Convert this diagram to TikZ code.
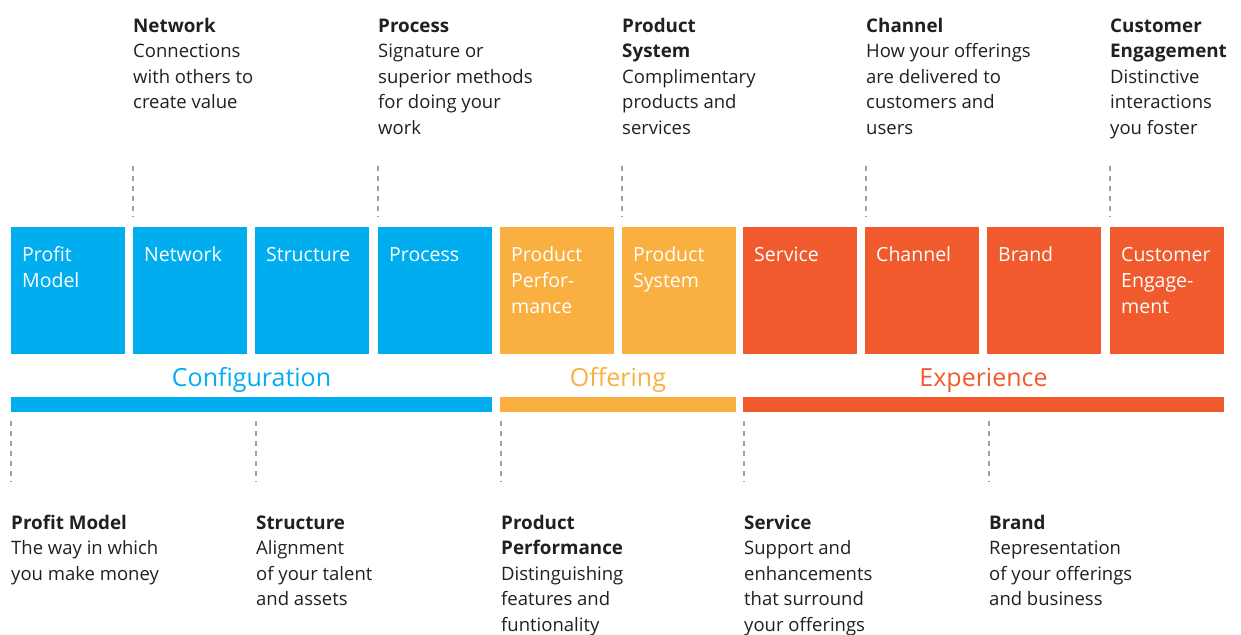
\documentclass[tikz,border=0pt]{standalone}
\usepackage{fontspec}
\setmainfont{Open Sans}
\definecolor{cblue}{HTML}{00AEEF}
\definecolor{corange}{HTML}{FAB041}
\definecolor{cred}{HTML}{F05A2C}
\definecolor{txt}{HTML}{231F20}
\definecolor{dotgray}{HTML}{A0A0A0}
\newcommand{\hd}[1]{{\fontsize{18.8}{25.5}\selectfont\bfseries #1}}
\begin{document}
\begin{tikzpicture}[x=1pt,y=-1pt,
  box/.style={draw=none, inner sep=0pt, minimum width=114pt, minimum height=127pt, anchor=north west},
  boxtxt/.style={anchor=base west, inner sep=0pt, align=left, text=white, font=\fontsize{19.5}{26}\selectfont},
  bar/.style={draw=none, inner sep=0pt, minimum height=15pt, anchor=north west},
  grp/.style={anchor=base, inner sep=0pt, font=\fontsize{25}{30}\selectfont},
  lbl/.style={anchor=base west, inner sep=0pt, align=left, text=txt, font=\fontsize{18.5}{25.5}\selectfont},
  dots/.style={draw=dotgray, line width=2pt, dash pattern=on 5pt off 5pt}]
\useasboundingbox (0,0) rectangle (1241,634);

% boxes
\node[box, fill=cblue]   (b1)  at (11,227)  {};
\node[box, fill=cblue]   (b2)  at (133,227) {};
\node[box, fill=cblue]   (b3)  at (255,227) {};
\node[box, fill=cblue]   (b4)  at (378,227) {};
\node[box, fill=corange] (b5)  at (500,227) {};
\node[box, fill=corange] (b6)  at (622,227) {};
\node[box, fill=cred]    (b7)  at (743,227) {};
\node[box, fill=cred]    (b8)  at (865,227) {};
\node[box, fill=cred]    (b9)  at (987,227) {};
\node[box, fill=cred]    (b10) at (1110,227) {};

% box texts (anchor = baseline of last line)
\node[boxtxt] (t1)  at (22,287)   {Profit\\Model};
\node[boxtxt] (t2)  at (144,261)  {Network};
\node[boxtxt] (t3)  at (266,261)  {Structure};
\node[boxtxt] (t4)  at (389,261)  {Process};
\node[boxtxt] (t5)  at (511,313)  {Product\\Perfor-\\mance};
\node[boxtxt] (t6)  at (633,287)  {Product\\System};
\node[boxtxt] (t7)  at (754,261)  {Service};
\node[boxtxt] (t8)  at (876,261)  {Channel};
\node[boxtxt] (t9)  at (998,261)  {Brand};
\node[boxtxt] (t10) at (1121,313) {Customer\\Engage-\\ment};

% group labels and bars
\node[grp, text=cblue]   (gconf) at (251.5,386) {Configuration};
\node[grp, text=corange] (goff)  at (618,386)   {Offering};
\node[grp, text=cred]    (gexp)  at (983.5,386) {Experience};
\node[bar, fill=cblue,   minimum width=481pt] (barconf) at (11,397)  {};
\node[bar, fill=corange, minimum width=236pt] (baroff)  at (500,397) {};
\node[bar, fill=cred,    minimum width=481pt] (barexp)  at (743,397) {};

% top descriptions (anchor = baseline of last line)
\node[lbl] (d2)  at (133,108.5) {\hd{Network}\\Connections\\with others to\\create value};
\node[lbl] (d4)  at (378,134)   {\hd{Process}\\Signature or\\superior methods\\for doing your\\work};
\node[lbl] (d6)  at (622,134)   {\hd{Product}\\\hd{System}\\Complimentary\\products and\\services};
\node[lbl] (d8)  at (866,134)   {\hd{Channel}\\How your offerings\\are delivered to\\customers and\\users};
\node[lbl] (d10) at (1110,134)  {\hd{Customer}\\\hd{Engagement}\\Distinctive\\interactions\\you foster};

% bottom descriptions
\node[lbl] (d1) at (11,580)    {\hd{Profit Model}\\The way in which\\you make money};
\node[lbl] (d3) at (256,605.5) {\hd{Structure}\\Alignment\\of your talent\\and assets};
\node[lbl] (d5) at (501,631)   {\hd{Product}\\\hd{Performance}\\Distinguishing\\features and\\funtionality};
\node[lbl] (d7) at (744,631)   {\hd{Service}\\Support and\\enhancements\\that surround\\your offerings};
\node[lbl] (d9) at (989,605.5) {\hd{Brand}\\Representation\\of your offerings\\and business};

% dotted leaders, top
\foreach \n/\x in {2/133,4/378,6/622,8/866,10/1110}{
  \coordinate (ua\n) at (\x,166);
  \coordinate (ub\n) at (\x,217);
  \draw[dots] (ua\n) -- (ub\n);
}
% dotted leaders, bottom
\foreach \n/\x in {1/11,3/256,5/501,7/744,9/989}{
  \coordinate (la\n) at (\x,421);
  \coordinate (lb\n) at (\x,482);
  \draw[dots] (la\n) -- (lb\n);
}
\end{tikzpicture}
\end{document}
